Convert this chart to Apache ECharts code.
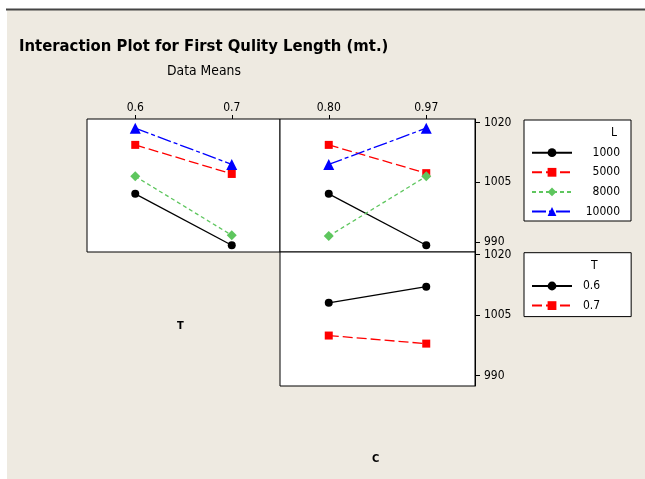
<!DOCTYPE html>
<html><head><meta charset="utf-8">
<script src="https://cdn.jsdelivr.net/npm/echarts@6/dist/echarts.min.js"></script>
<style>html,body{margin:0;padding:0;background:#fff}#c{width:645px;height:479px}</style>
</head><body><div id="c"></div>
<script>
// ---- data ----
const T_levels = ['0.6', '0.7'];
const C_levels = ['0.80', '0.97'];
const L_levels = ['1000', '5000', '8000', '10000'];
const T_lines = ['0.6', '0.7'];
const byT_L1000 = [1002.1, 989.2];
const byT_L5000 = [1014.4, 1007.1];
const byT_L8000 = [1006.5, 991.7];
const byT_L10000 = [1018.6, 1009.5];
const byC_L1000 = [1002.1, 989.2];
const byC_L5000 = [1014.4, 1007.3];
const byC_L8000 = [991.5, 1006.5];
const byC_L10000 = [1009.5, 1018.6];
const byC_T06 = [1008.0, 1012.0];
const byC_T07 = [999.9, 997.9];
const yTicks = [990, 1005, 1020];

// ---- styles ----
const FONT = '"DejaVu Sans Condensed", "DejaVu Sans", sans-serif';
const ST = {
  black: {color: '#000000', type: 'solid', symbol: 'circle', size: 8},
  red: {color: '#FF0000', type: [10, 4], symbol: 'rect', size: 8},
  green: {color: '#5EC65E', type: [4, 3], symbol: 'diamond', size: 10},
  blue: {color: '#0000FF', type: [14, 3, 4, 3], symbol: 'triangle', size: 11}
};
function ser(name, data, idx, st) {
  return {type: 'line', name: name, data: data, xAxisIndex: idx, yAxisIndex: idx,
    symbol: st.symbol, symbolSize: st.size, itemStyle: {color: st.color},
    lineStyle: {color: st.color, width: 1.3, type: st.type}, animation: false, z: 5};
}
const byT = [byT_L1000, byT_L5000, byT_L8000, byT_L10000];
const byC = [byC_L1000, byC_L5000, byC_L8000, byC_L10000];
const Lst = [ST.black, ST.red, ST.green, ST.blue];
const series = [];
L_levels.forEach((n, i) => series.push(ser(n, byT[i], 0, Lst[i])));
L_levels.forEach((n, i) => series.push(ser(n, byC[i], 1, Lst[i])));
series.push(ser(T_lines[0], byC_T06, 2, ST.black));
series.push(ser(T_lines[1], byC_T07, 2, ST.red));

const gridBase = {show: true, backgroundColor: '#fff', borderColor: '#000', borderWidth: 1};
const xTop = (gi, data) => ({gridIndex: gi, type: 'category', data: data, position: 'top', boundaryGap: true,
  axisLine: {show: false}, axisTick: {show: true, alignWithLabel: true, length: 4, lineStyle: {color: '#000'}},
  axisLabel: {color: '#000', fontSize: 12, fontFamily: FONT, margin: 5}, splitLine: {show: false}});
const yRight = (gi, mn, mx) => ({gridIndex: gi, type: 'value', min: mn, max: mx, position: 'right',
  axisLine: {show: true, lineStyle: {color: '#000'}},
  axisTick: {show: true, length: 5, customValues: yTicks, lineStyle: {color: '#000'}},
  axisLabel: {customValues: yTicks, formatter: v => String(v), margin: 9, color: '#000', fontSize: 12, fontFamily: FONT},
  splitLine: {show: false}});
const tTxt = (text, left, top, size, weight) => ({text: text, left: left, top: top, padding: 0,
  textStyle: {fontFamily: FONT, fontSize: size, fontWeight: weight, color: '#000'}});

const option = {
  backgroundColor: '#fff',
  animation: false,
  graphic: [
    {type: 'rect', shape: {x: 7, y: 10, width: 640, height: 470}, style: {fill: '#EEEAE1'}, z: -10, silent: true},
    {type: 'line', shape: {x1: 6, y1: 9.5, x2: 645, y2: 9.5}, style: {stroke: '#444', lineWidth: 2}, z: -9, silent: true}
  ],
  title: [
    tTxt('Interaction Plot for First Qulity Length (mt.)', 19, 38, 16.5, 'bold'),
    tTxt('Data Means', 167, 64, 13.8, 'normal'),
    tTxt('T', 177, 321, 11, 'bold'),
    tTxt('C', 372, 454, 11, 'bold'),
    tTxt('L', 611, 127, 12, 'normal'),
    tTxt('T', 591, 260, 12, 'normal')
  ],
  grid: [
    Object.assign({left: 87, top: 119, width: 193, height: 133}, gridBase),
    Object.assign({left: 280, top: 119, width: 195, height: 133}, gridBase),
    Object.assign({left: 280, top: 252, width: 195, height: 134}, gridBase)
  ],
  xAxis: [
    xTop(0, T_levels),
    xTop(1, C_levels),
    {gridIndex: 2, type: 'category', data: C_levels, boundaryGap: true, show: false}
  ],
  yAxis: [
    {gridIndex: 0, type: 'value', min: 987.5, max: 1020.9, show: false},
    yRight(1, 987.5, 1020.9),
    yRight(2, 987.4, 1020.6)
  ],
  legend: [
    {data: L_levels, orient: 'vertical', left: 524, top: 120, padding: [26.7, 11, 3.5, 7],
      itemWidth: 40, itemHeight: 11, itemGap: 7.6, borderColor: '#000', borderWidth: 1,
      backgroundColor: '#fff', selectedMode: false, formatter: '{a|{name}}',
      textStyle: {rich: {a: {width: 43, align: 'right', fontSize: 12, fontFamily: FONT, color: '#000'}}}},
    {data: T_lines, orient: 'vertical', left: 524, top: 252.7, padding: [27.3, 31, 5, 7],
      itemWidth: 40, itemHeight: 11, itemGap: 7.6, borderColor: '#000', borderWidth: 1,
      backgroundColor: '#fff', selectedMode: false, formatter: '{a|{name}}',
      textStyle: {rich: {a: {width: 43, align: 'left', padding: [0, 0, 0, 6], fontSize: 12, fontFamily: FONT, color: '#000'}}}}
  ],
  series: series
};
echarts.init(document.getElementById('c'), null, {renderer: 'canvas'}).setOption(option);
</script></body></html>
